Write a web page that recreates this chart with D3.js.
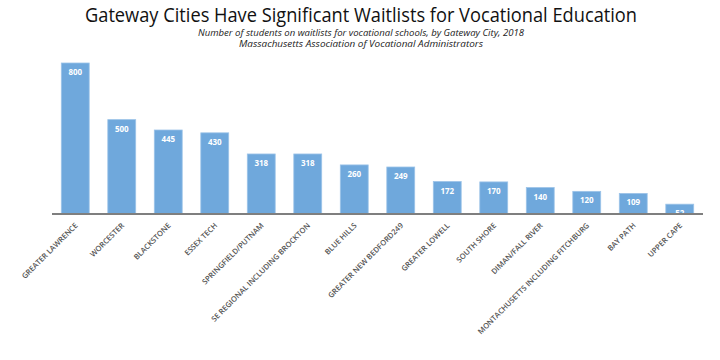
<!DOCTYPE html>
<html><head><meta charset="utf-8">
<script src="https://cdn.jsdelivr.net/npm/d3@7"></script>
<style>body{margin:0;background:#fff}svg{display:block}</style>
</head><body>
<svg id="c" width="720" height="360"></svg>
<script>
const categories = ["GREATER LAWRENCE","WORCESTER","BLACKSTONE","ESSEX TECH","SPRINGFIELD/PUTNAM","SE REGIONAL INCLUDING BROCKTON","BLUE HILLS","GREATER NEW BEDFORD249","GREATER LOWELL","SOUTH SHORE","DIMAN/FALL RIVER","MONTACHUSETTS INCLUDING FITCHBURG","BAY PATH","UPPER CAPE"];
const values = [800,500,445,430,318,318,260,249,172,170,140,120,109,52];
const title = "Gateway Cities Have Significant Waitlists for Vocational Education";
const subtitles = ["Number of students on waitlists for vocational schools, by Gateway City, 2018","Massachusetts Association of Vocational Administrators"];

const svg = d3.select("#c");
const x0 = 52, x1 = 703, yBase = 214;
const x = d3.scaleBand().domain(categories).range([x0, x1]).paddingInner(0.4).paddingOuter(0.2);
const y = d3.scaleLinear().domain([0, 800]).range([yBase, 63]);

svg.append("text").attr("x", 361).attr("y", 22).attr("text-anchor","middle")
  .attr("font-family","'Open Sans', sans-serif").attr("font-size", 20).attr("fill","#111")
  .attr("textLength", 552).attr("lengthAdjust","spacingAndGlyphs").text(title);
const subLens = [326, 244];
subtitles.forEach((s,i)=>svg.append("text").attr("x",361).attr("y",36+i*11).attr("text-anchor","middle")
  .attr("font-family","'Open Sans', sans-serif").attr("font-style","italic").attr("font-size",8.5).attr("fill","#222")
  .attr("textLength", subLens[i]).attr("lengthAdjust","spacingAndGlyphs").text(s));

svg.append("g").selectAll("rect").data(values).join("rect")
  .attr("x",(d,i)=>x(categories[i])).attr("width",x.bandwidth())
  .attr("y",d=>y(d)).attr("height",d=>yBase-y(d))
  .attr("fill","#6fa8dc").attr("stroke","#9cc3e8").attr("stroke-width",0.8);

svg.append("g").selectAll("text").data(values).join("text")
  .attr("x",(d,i)=>x(categories[i])+x.bandwidth()/2).attr("y",d=>y(d)+12)
  .attr("text-anchor","middle").attr("font-family","'Open Sans', sans-serif").attr("font-weight","bold")
  .attr("font-size",8).attr("fill","#fff").text(d=>d);

const ax = svg.append("g").attr("transform",`translate(0,${yBase})`)
  .call(d3.axisBottom(x).tickSize(0).tickPadding(0));
ax.select(".domain").attr("stroke","#7f7f7f").attr("stroke-width",2).attr("d",`M${x0},0H${x1}`);
ax.selectAll(".tick text").attr("font-family","'Open Sans', sans-serif").attr("font-weight","600")
  .attr("font-size",7.6).attr("fill","#555").attr("text-anchor","end").attr("dy",0)
  .attr("transform","translate(3,12) rotate(-45)");
</script>
</body></html>
